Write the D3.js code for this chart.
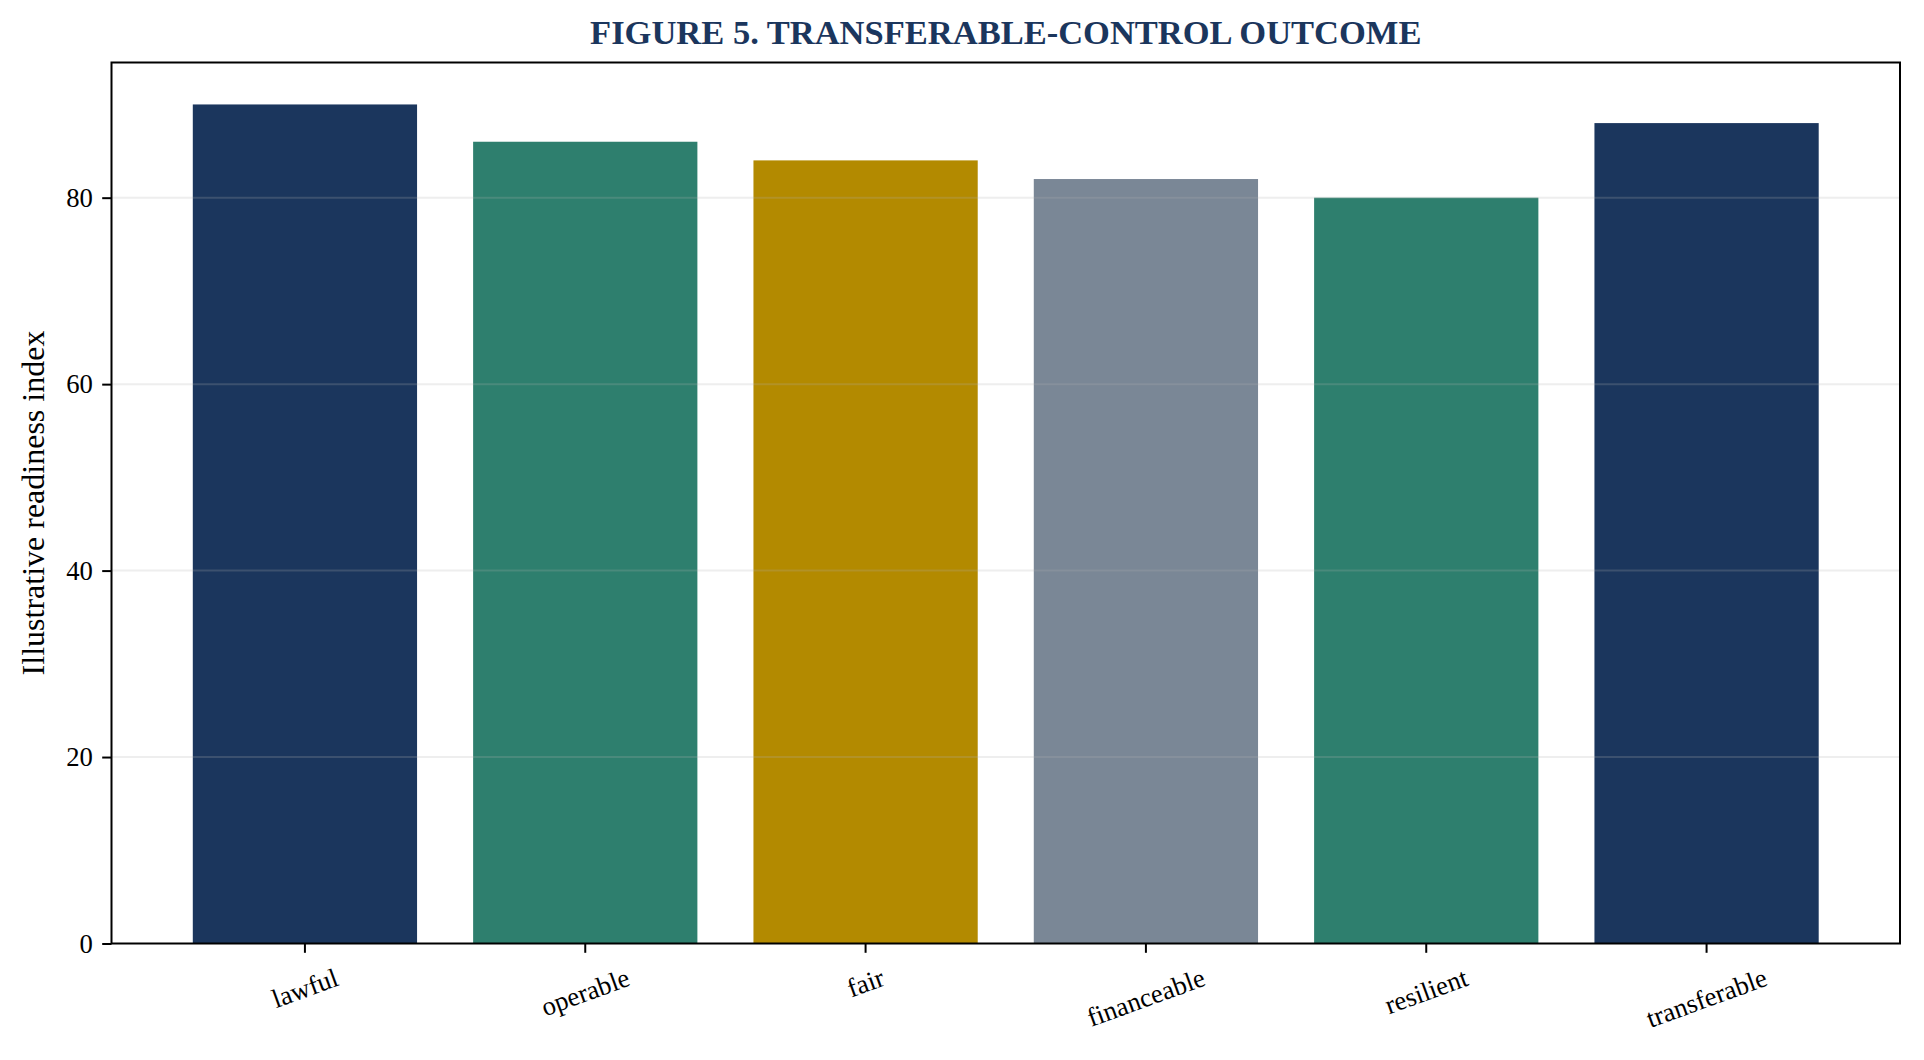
<!DOCTYPE html>
<html>
<head>
<meta charset="utf-8">
<script src="https://cdn.jsdelivr.net/npm/d3@7"></script>
<style>
  body { margin: 0; background: #fff; }
  text { font-family: "Liberation Serif", "Times New Roman", serif; }
</style>
</head>
<body>
<div id="chart-area"></div>
<script>
var categories = ["lawful", "operable", "fair", "financeable", "resilient", "transferable"];
var values = [90, 86, 84, 82, 80, 88];
var barColors = ["#1b365d", "#2e7f6e", "#b38a00", "#7a8796", "#2e7f6e", "#1b365d"];
var yTicks = [0, 20, 40, 60, 80];
var titleText = "FIGURE 5. TRANSFERABLE-CONTROL OUTCOME";
var yLabel = "Illustrative readiness index";

var svg = d3.select("#chart-area")
  .append("svg")
  .attr("width", 1924)
  .attr("height", 1060);

var margin = { top: 62.5, right: 24, bottom: 116.5, left: 111.5 };
var width = 1924 - margin.left - margin.right;
var height = 1060 - margin.top - margin.bottom;

var g = svg.append("g")
  .attr("transform", "translate(" + margin.left + "," + margin.top + ")");

var x = d3.scaleBand()
  .domain(categories)
  .range([0, width])
  .paddingInner(0.2)
  .paddingOuter(0.29);

var y = d3.scaleLinear()
  .domain([0, 94.5])
  .range([height, 0]);

var tickLen = 9.3, tickPad = 9.3, tickFont = 26.7;

// bars
g.selectAll("rect.bar")
  .data(values)
  .enter()
  .append("rect")
  .attr("class", "bar")
  .attr("x", function(d, i) { return x(categories[i]); })
  .attr("y", function(d) { return y(d); })
  .attr("width", x.bandwidth())
  .attr("height", function(d) { return height - y(d); })
  .attr("fill", function(d, i) { return barColors[i]; });

// grid on top of bars
g.selectAll("line.grid")
  .data(yTicks.filter(function(t) { return t > 0; }))
  .enter()
  .append("line")
  .attr("class", "grid")
  .attr("x1", 0)
  .attr("x2", width)
  .attr("y1", function(d) { return y(d); })
  .attr("y2", function(d) { return y(d); })
  .attr("stroke", "#b0b0b0")
  .attr("stroke-opacity", 0.22)
  .attr("stroke-width", 2);

// y axis
var yAxis = g.append("g")
  .call(d3.axisLeft(y).tickValues(yTicks).tickSize(tickLen).tickPadding(tickPad));
yAxis.select(".domain").remove();
yAxis.selectAll("line").attr("stroke", "#000").attr("stroke-width", 2);
yAxis.selectAll("text")
  .attr("font-size", tickFont)
  .attr("fill", "#000")
  .style("font-family", "Liberation Serif");

// x axis
var xAxis = g.append("g")
  .attr("transform", "translate(0," + height + ")")
  .call(d3.axisBottom(x).tickSize(tickLen).tickPadding(tickPad));
xAxis.select(".domain").remove();
xAxis.selectAll("line").attr("stroke", "#000").attr("stroke-width", 2);

var rot = 20 * Math.PI / 180;
xAxis.selectAll("text")
  .attr("font-size", tickFont)
  .attr("fill", "#000")
  .style("font-family", "Liberation Serif")
  .attr("dy", null)
  .attr("y", 0)
  .attr("dominant-baseline", "central")
  .attr("text-anchor", "middle")
  .attr("transform", function() {
    var w = this.getComputedTextLength();
    var h = tickFont * 1.15;
    var bh = w * Math.sin(rot) + h * Math.cos(rot);
    var cy = tickLen + tickPad + bh / 2;
    return "translate(0," + cy + ") rotate(-20)";
  });

// frame
g.append("rect")
  .attr("x", 0)
  .attr("y", 0)
  .attr("width", width)
  .attr("height", height)
  .attr("fill", "none")
  .attr("stroke", "#000")
  .attr("stroke-width", 2);

// y label
svg.append("text")
  .attr("transform", "translate(33," + (margin.top + height / 2) + ") rotate(-90)")
  .attr("text-anchor", "middle")
  .attr("dominant-baseline", "central")
  .attr("font-size", 32)
  .attr("fill", "#000")
  .text(yLabel);

// title
svg.append("text")
  .attr("x", margin.left + width / 2)
  .attr("y", 44)
  .attr("text-anchor", "middle")
  .attr("font-size", 34.5)
  .attr("font-weight", "bold")
  .attr("fill", "#1b365d")
  .text(titleText);
</script>
</body>
</html>
